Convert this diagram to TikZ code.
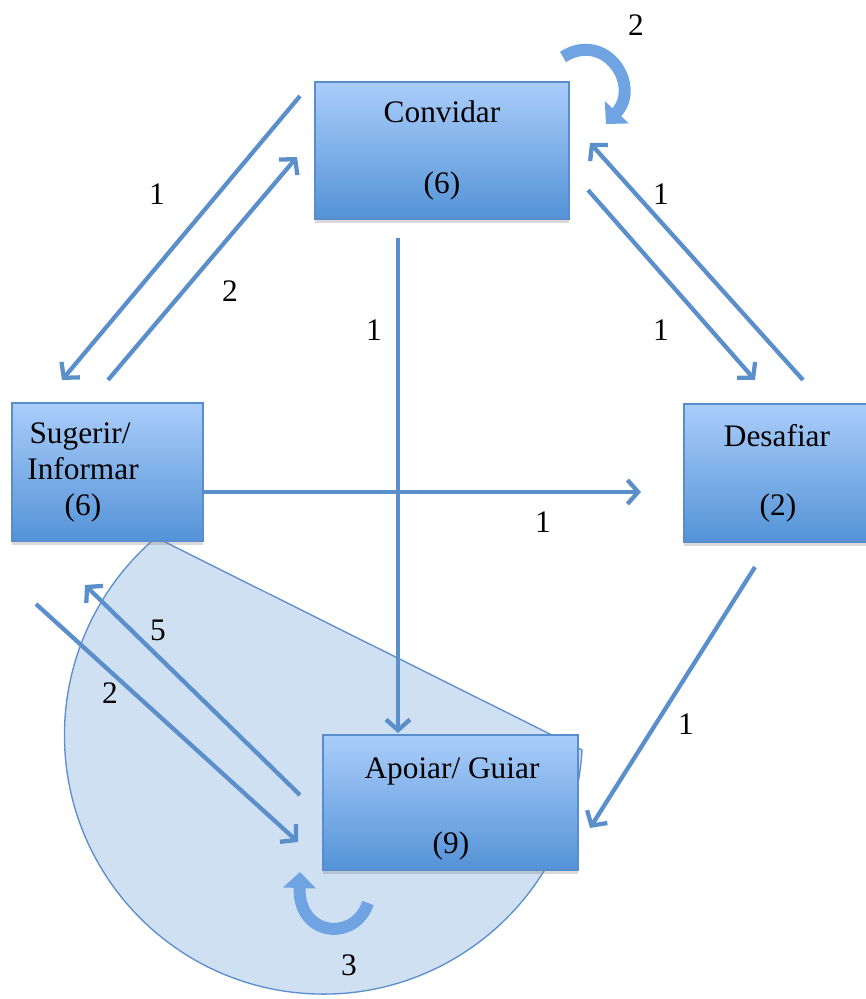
\documentclass[tikz,border=0pt]{standalone}
\usepackage{fontspec}
\setmainfont{Liberation Serif}
\usetikzlibrary{arrows.meta,shadows}
\definecolor{boxtop}{HTML}{AACDFA}
\definecolor{boxbot}{HTML}{5493D7}
\definecolor{boxline}{HTML}{5A8DCB}
\definecolor{flow}{HTML}{5B8FCB}
\definecolor{loopfill}{HTML}{6FA3E2}
\definecolor{zone}{HTML}{CFE0F2}

\begin{document}
\begin{tikzpicture}[x=0.75pt,y=-0.75pt,
  stage/.style={draw=boxline, line width=0.8pt, top color=boxtop, bottom color=boxbot,
    inner sep=0pt, drop shadow={shadow xshift=0pt, shadow yshift=-3pt, opacity=0.3}},
  flowline/.style={draw=flow, line width=3.2pt, -{Straight Barb[length=8pt,width=18pt]}},
  selfloop/.style={draw=loopfill, line width=9pt, -{Triangle[length=12pt,width=24pt]}},
  txt/.style={font=\fontsize{23.5}{28}\selectfont, inner sep=0pt, anchor=center}]

\useasboundingbox (0,0) rectangle (865,999);

% shaded zone around the support stage
\filldraw[fill=zone, draw=flow, line width=1pt]
  (155,537) -- (582,750) arc[start angle=3.3, end angle=229.4, radius=259] -- cycle;

% connectors
\coordinate (c1a) at (300,96);  \coordinate (c1b) at (62,380);
\coordinate (c2a) at (108,380); \coordinate (c2b) at (297,157);
\coordinate (c3a) at (398,238); \coordinate (c3b) at (398,733);
\coordinate (c4a) at (588,190); \coordinate (c4b) at (755,380);
\coordinate (c5a) at (803,380); \coordinate (c5b) at (590,143);
\coordinate (c6a) at (204,492); \coordinate (c6b) at (641,492);
\coordinate (c7a) at (755,567); \coordinate (c7b) at (590,828);
\coordinate (c8a) at (300,795); \coordinate (c8b) at (85,585);
\coordinate (c9a) at (36,604);  \coordinate (c9b) at (298,842);

\draw[flowline] (c1a) -- (c1b);
\draw[flowline] (c2a) -- (c2b);
\draw[flowline] (c3a) -- (c3b);
\draw[flowline] (c4a) -- (c4b);
\draw[flowline] (c5a) -- (c5b);
\draw[flowline] (c6a) -- (c6b);
\draw[flowline] (c7a) -- (c7b);
\draw[flowline] (c8a) -- (c8b);
\draw[flowline] (c9a) -- (c9b);

% stages
\node[stage, minimum width=190.5pt, minimum height=102.75pt] (conv) at (442,150.5) {};
\node[stage, minimum width=143.25pt, minimum height=103.5pt] (sug) at (107.5,472) {};
\node[stage, minimum width=139.5pt, minimum height=103.5pt] (des) at (777,473) {};
\node[stage, minimum width=191.25pt, minimum height=101.25pt] (apo) at (450.5,802.5) {};

\node[txt] (convA) at (442,112) {Convidar};
\node[txt] (convB) at (442,186) {(6)};
\node[txt] (sugA) at (80,437) {Sugerir/};
\node[txt] (sugB) at (83,469) {Informar};
\node[txt] (sugC) at (83,508) {(6)};
\node[txt] (desA) at (777,436) {Desafiar};
\node[txt] (desB) at (778,508) {(2)};
\node[txt] (apoA) at (452,771) {Apoiar/ Guiar};
\node[txt] (apoB) at (451,846) {(9)};

% self loops
\draw[selfloop] (563,57) .. controls (605,30) and (642,85) .. (606,124);
\draw[selfloop] (368,903) .. controls (355,942) and (298,937) .. (300,872);

% counts
\node[txt] (n1) at (636,25) {2};
\node[txt] (n2) at (157,194) {1};
\node[txt] (n3) at (661,194) {1};
\node[txt] (n4) at (230,291) {2};
\node[txt] (n5) at (374,330) {1};
\node[txt] (n6) at (661,330) {1};
\node[txt] (n7) at (543,522) {1};
\node[txt] (n8) at (158,630) {5};
\node[txt] (n9) at (110,693) {2};
\node[txt] (n10) at (686,724) {1};
\node[txt] (n11) at (349,965) {3};
\end{tikzpicture}
\end{document}
